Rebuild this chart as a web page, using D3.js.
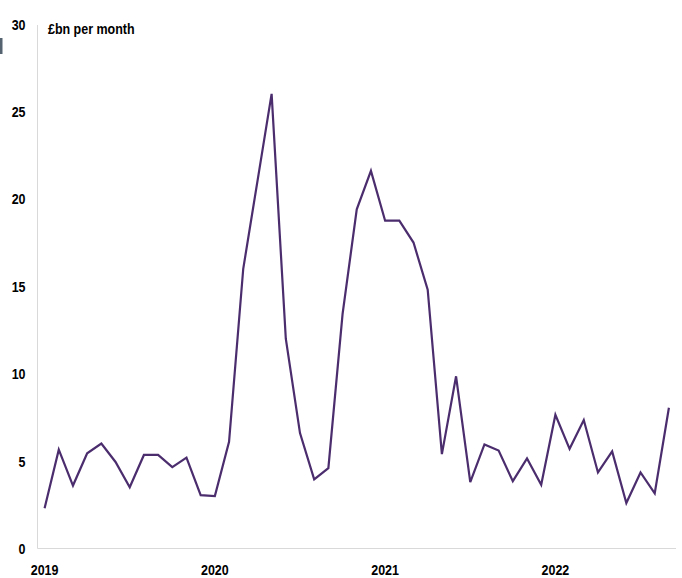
<!DOCTYPE html>
<html>
<head>
<meta charset="utf-8">
<script src="https://cdn.jsdelivr.net/npm/d3@7"></script>
<style>
  html, body { margin: 0; padding: 0; background: #fff; }
  svg { display: block; }
  text { font-family: "Liberation Sans", Arial, sans-serif; font-weight: bold; fill: #000; font-size: 15.4px; }
</style>
</head>
<body>
<svg id="chart" width="682" height="578"></svg>
<script>
// Monthly values, Jan 2019 – Sep 2022 (£bn per month)
const months = [
  "2019-01","2019-02","2019-03","2019-04","2019-05","2019-06","2019-07","2019-08","2019-09","2019-10","2019-11","2019-12",
  "2020-01","2020-02","2020-03","2020-04","2020-05","2020-06","2020-07","2020-08","2020-09","2020-10","2020-11","2020-12",
  "2021-01","2021-02","2021-03","2021-04","2021-05","2021-06","2021-07","2021-08","2021-09","2021-10","2021-11","2021-12",
  "2022-01","2022-02","2022-03","2022-04","2022-05","2022-06","2022-07","2022-08","2022-09"
];
const values = [
  2.3, 5.65, 3.6, 5.45, 6.0, 4.95, 3.5, 5.35, 5.35, 4.65, 5.2, 3.05,
  3.0, 6.1, 16.0, 21.0, 26.0, 12.0, 6.6, 3.95, 4.6, 13.4, 19.4, 21.6,
  18.75, 18.75, 17.5, 14.8, 5.4, 9.85, 3.8, 5.95, 5.6, 3.85, 5.15, 3.65,
  7.65, 5.7, 7.35, 4.35, 5.55, 2.6, 4.35, 3.15, 8.05
];
const yTicks = [0, 5, 10, 15, 20, 25, 30];
const xTickMonths = ["2019-01", "2020-01", "2021-01", "2022-01"];
const xTickLabels = ["2019", "2020", "2021", "2022"];
const unitLabel = "£bn per month";

const svg = d3.select("#chart");
const mLeft = 37.5, mRight = 676, mTop = 24, mBottom = 548.5;
const NARROW = 0.81;

const x = d3.scaleBand().domain(months).range([mLeft, mRight]).padding(0);
const y = d3.scaleLinear().domain([0, 30]).range([mBottom, mTop]);
const xc = m => x(m) + x.bandwidth() / 2;

// small clipped artefact at left edge
svg.append("rect").attr("x", 0).attr("y", 38).attr("width", 2.5).attr("height", 16)
  .attr("fill", "#556270");

// axes lines
svg.append("line").attr("x1", mLeft).attr("x2", mLeft).attr("y1", 25).attr("y2", mBottom)
  .attr("stroke", "#d9d9d9").attr("stroke-width", 1);
svg.append("line").attr("x1", mLeft).attr("x2", mRight).attr("y1", mBottom).attr("y2", mBottom)
  .attr("stroke", "#d9d9d9").attr("stroke-width", 1);

// y tick labels (narrow bold)
svg.append("g").selectAll("text").data(yTicks).join("text")
  .attr("transform", d => `translate(25.5,${y(d) + 5.5}) scale(${NARROW},1)`)
  .attr("text-anchor", "end")
  .text(d => d);

// x tick labels
svg.append("g").selectAll("text").data(xTickMonths).join("text")
  .attr("transform", d => `translate(${xc(d)},575) scale(${NARROW},1)`)
  .attr("text-anchor", "middle")
  .text((d, i) => xTickLabels[i]);

// unit label
svg.append("text").attr("transform", `translate(48,34) scale(${NARROW},1)`)
  .text(unitLabel);

// line
const line = d3.line().x((d, i) => xc(months[i])).y(d => y(d));
svg.append("path").datum(values).attr("d", line)
  .attr("fill", "none").attr("stroke", "#4b2d6e").attr("stroke-width", 2.2)
  .attr("stroke-linejoin", "miter");
</script>
</body>
</html>
